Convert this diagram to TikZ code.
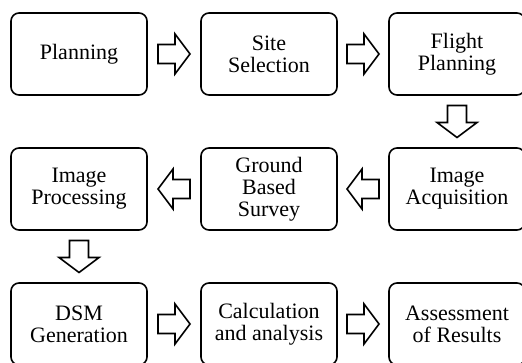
\documentclass[tikz,border=0pt]{standalone}
\usepackage{fontspec}
\setmainfont{Liberation Serif}
\usetikzlibrary{calc}
\tikzset{
  stagebox/.style={draw=black, line width=1.6pt, rounded corners=8pt,
    minimum width=136pt, minimum height=82pt, align=center, inner sep=0pt,
    font=\fontsize{22}{22}\selectfont},
  blockarr/.style={draw=black, line width=1.6pt, fill=white, line join=miter}
}
\newcommand{\barrow}[2]{%
  \draw[blockarr, shift={(#1)}, rotate=#2]
    (-16,-9.5) -- (1,-9.5) -- (1,-20) -- (16,0) -- (1,20) -- (1,9.5) -- (-16,9.5) -- cycle;}
\begin{document}
\begin{tikzpicture}[x=1pt,y=-1pt]
\useasboundingbox (0,0) rectangle (522,363);
\clip (0,0) rectangle (522,363);
% row 1
\node[stagebox] (plan) at (79,54) {Planning};
\node[stagebox] (site) at (269,54) {Site\\Selection};
\node[stagebox] (flight) at (457,54) {Flight\\Planning};
% row 2
\node[stagebox] (acq) at (457,189) {Image\\Acquisition};
\node[stagebox] (ground) at (269,189) {Ground\\Based\\Survey};
\node[stagebox] (proc) at (79,189) {Image\\Processing};
% row 3
\node[stagebox] (dsm) at (79,324) {DSM\\Generation};
\node[stagebox] (calc) at (269,324) {Calculation\\and analysis};
\node[stagebox] (assess) at (457,324) {Assessment\\of Results};
% arrow positions
\coordinate (a1) at ($(plan.east)!0.5!(site.west)$);
\coordinate (a2) at ($(site.east)!0.5!(flight.west)$);
\coordinate (a3) at ($(flight.south)!0.5!(acq.north)$);
\coordinate (a4) at ($(acq.west)!0.5!(ground.east)$);
\coordinate (a5) at ($(ground.west)!0.5!(proc.east)$);
\coordinate (a6) at ($(proc.south)!0.5!(dsm.north)$);
\coordinate (a7) at ($(dsm.east)!0.5!(calc.west)$);
\coordinate (a8) at ($(calc.east)!0.5!(assess.west)$);
\barrow{a1}{0}
\barrow{a2}{0}
\barrow{a3}{-90}
\barrow{a4}{180}
\barrow{a5}{180}
\barrow{a6}{-90}
\barrow{a7}{0}
\barrow{a8}{0}
\end{tikzpicture}
\end{document}
